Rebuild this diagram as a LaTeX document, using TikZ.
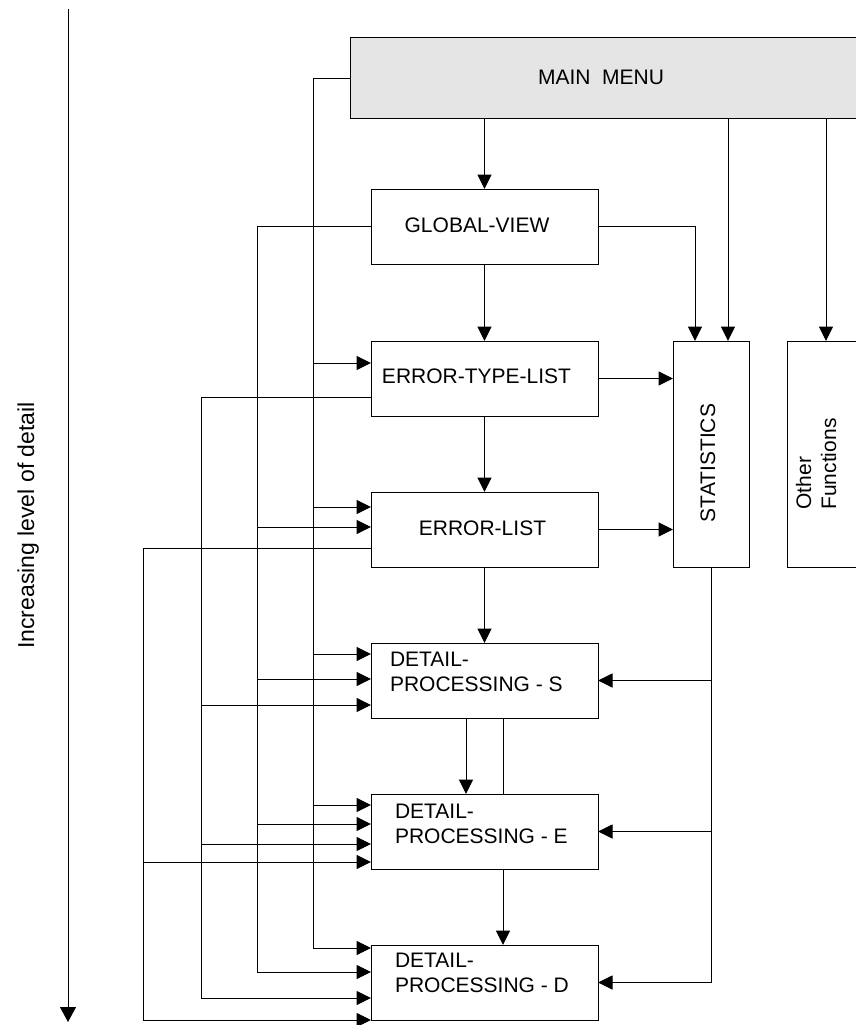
\documentclass[tikz,border=0pt]{standalone}
\usepackage{fontspec}
\setmainfont{Liberation Sans}
\usetikzlibrary{arrows.meta,calc}
\definecolor{mmgray}{RGB}{229,229,229}
\begin{document}
\begin{tikzpicture}[x=1pt,y=-1pt,
  line/.style={draw=black,line width=1pt},
  arr/.style={line,-{Triangle[length=14.5pt,width=14pt]}},
  box/.style={draw=black,line width=1pt,minimum width=227pt,minimum height=75pt,inner sep=0pt,outer sep=0pt},
  txt/.style={font=\fontsize{21}{25}\selectfont,inner sep=0pt,outer sep=0pt}]
\useasboundingbox (0,0) rectangle (856,1025);
% boxes
\node[box,fill=mmgray,minimum width=560pt,minimum height=80pt] (MM) at (630,78) {};
\node[txt] (MMt) at (601,77) {MAIN~~MENU};
\node[box] (GV) at (484.5,226.5) {};
\node[txt] (GVt) at (477,225) {GLOBAL-VIEW};
\node[box] (ETL) at (484.5,378.5) {};
\node[txt] (ETLt) at (476.5,376) {ERROR-TYPE-LIST};
\node[box] (EL) at (484.5,529.5) {};
\node[txt] (ELt) at (482.5,528) {ERROR-LIST};
\node[box] (S) at (484.5,680.5) {};
\node[box] (E) at (484.5,831.5) {};
\node[box] (D) at (484.5,982.5) {};
\node[txt,anchor=north west,align=left] (St) at ([xshift=19pt,yshift=-9pt]S.north west) {DETAIL-\\PROCESSING - S};
\node[txt,anchor=north west,align=left] (Et) at ([xshift=24pt,yshift=-10pt]E.north west) {DETAIL-\\PROCESSING - E};
\node[txt,anchor=north west,align=left] (Dt) at ([xshift=24pt,yshift=-8pt]D.north west) {DETAIL-\\PROCESSING - D};
\node[box,minimum width=76pt,minimum height=226pt] (ST) at (711,454) {};
\node[txt,rotate=90] (STt) at (708,463) {STATISTICS};
\node[box,minimum width=120pt,minimum height=226pt] (OF) at (847,454) {};
\node[txt,rotate=90,align=left] (OFt) at (816,464) {Other\\Functions};
% main column
\draw[arr] (MM.south -| GV.north) -- (GV.north);
\draw[arr] (GV.south) -- (ETL.north);
\draw[arr] (ETL.south) -- (EL.north);
\draw[arr] (EL.south) -- (S.north);
\draw[arr] ([xshift=-18.5pt]S.south) -- ([xshift=-18.5pt]E.north);
\draw[line] ([xshift=18.5pt]S.south) -- ([xshift=18.5pt]E.north);
\draw[arr] ([xshift=18.5pt]E.south) -- ([xshift=18.5pt]D.north);
% statistics / other
\coordinate (st1) at ([xshift=-16pt]ST.north);
\coordinate (st2) at ([xshift=17pt]ST.north);
\coordinate (of1) at ([xshift=39pt]OF.north west);
\draw[arr] (GV.east) -| (st1);
\draw[arr] (MM.south -| st2) -- (st2);
\draw[arr] (MM.south -| of1) -- (of1);
\draw[arr] (ETL.east) -- (ETL.east -| ST.west);
\draw[arr] (EL.east) -- (EL.east -| ST.west);
\draw[arr] (ST.south) |- (D.east);
\draw[arr] (ST.south |- S.east) -- (S.east);
\draw[arr] (ST.south |- E.east) -- (E.east);
% left buses
\coordinate (bA) at (313,0);
\coordinate (bB) at (257,0);
\coordinate (bC) at (201,0);
\coordinate (bD) at (143,0);
% bus A from main menu
\coordinate (A1) at ([yshift=-22pt]ETL.north west);
\coordinate (A2) at ([yshift=-15pt]EL.north west);
\coordinate (A3) at ([yshift=-11pt]S.north west);
\coordinate (A4) at ([yshift=-11pt]E.north west);
\coordinate (A5) at ([yshift=-3pt]D.north west);
\draw[arr] (MM.west) -| (A5 -| bA) -- (A5);
\foreach \p in {A1,A2,A3,A4} \draw[arr] (\p -| bA) -- (\p);
% bus B from global view
\coordinate (B1) at ([yshift=-35pt]EL.north west);
\coordinate (B2) at ([yshift=-36pt]S.north west);
\coordinate (B3) at ([yshift=-30pt]E.north west);
\coordinate (B4) at ([yshift=-27pt]D.north west);
\draw[arr] (GV.west) -| (B4 -| bB) -- (B4);
\foreach \p in {B1,B2,B3} \draw[arr] (\p -| bB) -- (\p);
% bus C from error-type-list
\coordinate (C0) at ([yshift=-18.5pt]ETL.west);
\coordinate (C1) at ([yshift=-62pt]S.north west);
\coordinate (C2) at ([yshift=-50pt]E.north west);
\coordinate (C3) at ([yshift=-53pt]D.north west);
\draw[arr] (C0) -| (C3 -| bC) -- (C3);
\foreach \p in {C1,C2} \draw[arr] (\p -| bC) -- (\p);
% bus D from error-list
\coordinate (Q0) at ([yshift=-18.5pt]EL.west);
\coordinate (Q1) at ([yshift=-68pt]E.north west);
\coordinate (Q2) at (D.south west);
\draw[arr] (Q0) -| (Q2 -| bD) -- (Q2);
\draw[arr] (Q1 -| bD) -- (Q1);
% axis
\coordinate (ax1) at (68,9);
\coordinate (ax2) at (68,1022);
\draw[line,-{Triangle[length=15pt,width=16pt]}] (ax1) -- (ax2);
\node[font=\fontsize{23}{27}\selectfont,rotate=90,anchor=base,inner sep=0pt] (axl) at (34,525.5) {Increasing level of detail};
\end{tikzpicture}
\end{document}
